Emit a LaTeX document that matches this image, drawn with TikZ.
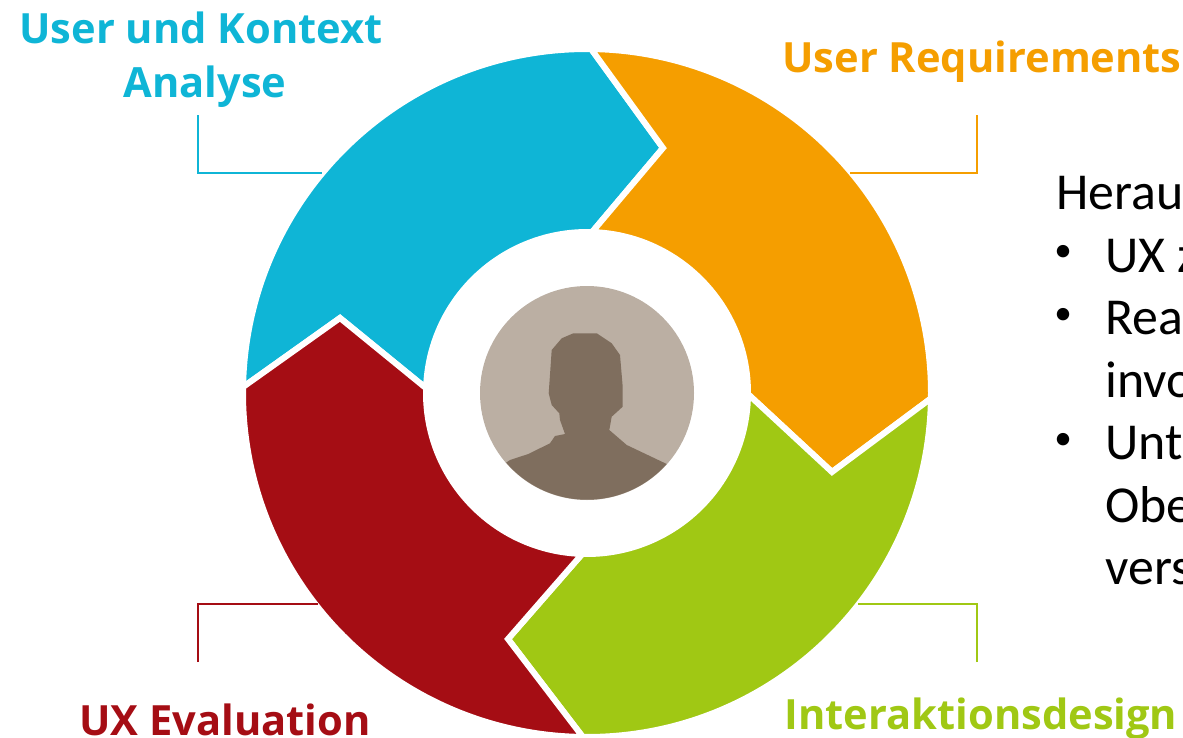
\documentclass[tikz,border=0pt]{standalone}
\usepackage{fontspec}
\setmainfont{Carlito}
\newfontfamily\labelfont{Open Sans}
\definecolor{ringblue}{HTML}{0FB5D6}
\definecolor{ringorange}{HTML}{F59E00}
\definecolor{ringgreen}{HTML}{A0C814}
\definecolor{ringred}{HTML}{A50D14}
\definecolor{persondisc}{HTML}{BBAFA3}
\definecolor{personbody}{HTML}{7F6E5E}
\tikzset{
  ringpart/.style={draw=white,line width=0.12cm,line join=miter},
  steplabel/.style={anchor=base,inner sep=0pt,font=\labelfont\bfseries\fontsize{23.7}{28}\selectfont},
  bodytext/.style={anchor=base west,inner sep=0pt,font=\fontsize{29.5}{35}\selectfont},
  bulletmark/.style={anchor=center,inner sep=0pt,font=\fontsize{20}{24}\selectfont},
  bracket/.style={line width=1.3pt}
}
\begin{document}
\begin{tikzpicture}[x=0.02cm,y=0.02cm]
    \useasboundingbox (0,0) rectangle (1183,-737);
    \clip (0,0) rectangle (1183,-737);
    % ring
    \begin{scope}[shift={(587,-393)}]
    \filldraw [ringpart,fill=ringblue] (179:344) arc (179:89.3:344) -- (76,245) -- (88.2:161) arc (88.2:178.3:161) -- (-247,75) -- cycle;
    \filldraw [ringpart,fill=ringorange] (89.3:344) arc (89.3:-0.9:344) -- (245,-79) -- (-0.4:161) arc (-0.4:88.2:161) -- (76,245) -- cycle;
    \filldraw [ringpart,fill=ringgreen] (-0.9:344) arc (-0.9:-90.7:344) -- (-79,-246) -- (-91.7:161) arc (-91.7:-0.4:161) -- (245,-79) -- cycle;
    \filldraw [ringpart,fill=ringred] (179:344) arc (179:269.3:344) -- (-79,-246) -- (268.3:161) arc (268.3:178.3:161) -- (-247,75) -- cycle;
    \fill [persondisc] (0,0) circle (107);
    \end{scope}
    % person
    \fill [personbody] (573.3,-333.3) -- (596.7,-333.3) -- (611.7,-343.3) -- (620,-355) -- (622.7,-386.7) -- (622.7,-406.7) -- (611.7,-416.7) -- (609.3,-430) -- (626.7,-445) -- (666.7,-464) arc (-41.7:-139.3:106.7) -- (510,-460) -- (528.3,-454) -- (550,-443.3) -- (555,-436) -- (565,-434) -- (560,-420) -- (559.3,-413.3) -- (551.7,-405) -- (548.7,-393.3) -- (551.7,-350) -- (561.7,-338.3) -- cycle;
    % labels
    \node [steplabel,text=ringblue] (kontext) at (201,-43) {User und Kontext};
    \node [steplabel,text=ringblue] (analyse) at (205,-97) {Analyse};
    \node [steplabel,text=ringorange] (requirements) at (982,-72) {User Requirements};
    \node [steplabel,text=ringgreen] (design) at (981,-729) {Interaktionsdesign};
    \node [steplabel,text=ringred] (evaluation) at (225,-735) {UX Evaluation};
    % brackets
    \coordinate (blueend) at (198,-115);
    \coordinate (bluering) at (322,-173);
    \coordinate (orangeend) at (977,-115);
    \coordinate (orangering) at (850,-173);
    \coordinate (redend) at (198,-662);
    \coordinate (redring) at (318,-604);
    \coordinate (greenend) at (977,-662);
    \coordinate (greenring) at (858,-604);
    \draw [bracket,ringblue] (blueend) |- (bluering);
    \draw [bracket,ringorange] (orangeend) |- (orangering);
    \draw [bracket,ringred] (redend) |- (redring);
    \draw [bracket,ringgreen] (greenend) |- (greenring);
    % text on the right
    \node [bodytext] (head) at (1056,-209) {Herau};
    \node [bulletmark] (bulleta) at (1063,-253) {\textbullet};
    \node [bodytext] (linea) at (1105,-272) {UX z};
    \node [bulletmark] (bulletb) at (1063,-316) {\textbullet};
    \node [bodytext] (lineb) at (1105,-334) {Rea};
    \node [bodytext] (linec) at (1105,-397) {invo};
    \node [bulletmark] (bulletc) at (1063,-441) {\textbullet};
    \node [bodytext] (lined) at (1105,-459) {Unt};
    \node [bodytext] (linee) at (1105,-522) {Obe};
    \node [bodytext] (linef) at (1105,-584) {vers};
\end{tikzpicture}
\end{document}
